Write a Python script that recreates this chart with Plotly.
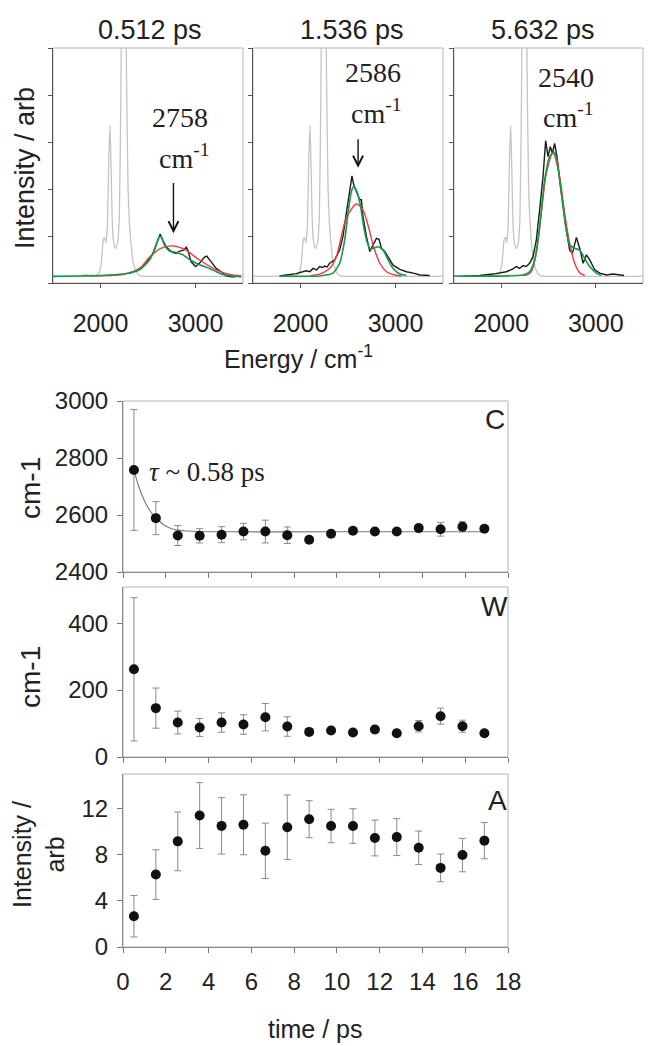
import plotly.graph_objects as go

W, H = 661, 1046
SANS = "Liberation Sans"
SERIF = "Liberation Serif"

# ---------------- spectra (top row) ----------------
panel_titles = ["0.512 ps", "1.536 ps", "5.632 ps"]
peak_labels = ["2758", "2586", "2540"]

gray_e = [1500, 1600, 1700, 1800, 1850, 1870, 1900, 1930, 1960, 1985, 2010, 2030, 2045, 2058, 2072,
          2088, 2100, 2112, 2126, 2140, 2157, 2180, 2198, 2214, 2230, 2244, 2258, 2272, 2290,
          2314, 2348, 2383, 2418, 2500, 3000, 3500]
gray_i = [0.14, 0.14, 0.14, 0.15, 0.18, 0.14, 0.17, 0.15, 0.17, 0.22, 0.45, 0.92, 0.97, 0.86, 1.2,
          2.7, 3.35, 2.4, 1.2, 0.85, 0.73, 0.85, 1.4, 4.0, 8.0, 9.0, 8.0, 4.8, 2.0,
          1.0, 0.4, 0.22, 0.15, 0.14, 0.14, 0.14]

p1_black_e = [2300, 2400, 2450, 2500, 2551, 2586, 2628, 2656, 2691, 2726, 2761, 2796, 2832, 2877,
              2902, 2919, 2954, 3000, 3042, 3095, 3119, 3165, 3218, 3270, 3323, 3380, 3420]
p1_black_i = [0.2, 0.28, 0.36, 0.48, 0.63, 0.81, 1.04, 0.91, 0.77, 0.70, 0.65, 0.63, 0.68, 0.70,
              0.76, 0.70, 0.45, 0.35, 0.42, 0.55, 0.57, 0.45, 0.31, 0.24, 0.15, 0.13, 0.13]
p1_green_e = [1500, 1800, 2000, 2235, 2410, 2516, 2568, 2621, 2639, 2674, 2726, 2796, 2867, 2937,
              3007, 3077, 3147, 3218, 3288, 3393, 3480]
p1_green_i = [0.14, 0.15, 0.16, 0.19, 0.28, 0.49, 0.70, 0.99, 0.98, 0.80, 0.68, 0.65, 0.60, 0.50,
              0.42, 0.36, 0.31, 0.24, 0.18, 0.15, 0.13]
p1_red_e = [1900, 2100, 2235, 2410, 2516, 2640, 2761, 2880, 3042, 3218, 3358, 3480]
p1_red_i = [0.15, 0.16, 0.18, 0.31, 0.55, 0.74, 0.79, 0.72, 0.49, 0.28, 0.18, 0.15]

p2_black_e = [1780, 1954, 2060, 2100, 2130, 2170, 2200, 2230, 2254, 2280, 2306, 2359, 2412, 2447,
              2482, 2518, 2542, 2560, 2588, 2623, 2641, 2658, 2694, 2729, 2764, 2799, 2827, 2852,
              2887, 2923, 2975, 3046, 3116, 3187, 3257, 3360]
p2_black_i = [0.15, 0.2, 0.26, 0.24, 0.31, 0.28, 0.35, 0.33, 0.36, 0.34, 0.42, 0.49, 0.70, 0.99,
              1.48, 1.98, 2.28, 2.09, 1.94, 1.77, 1.77, 1.41, 0.99, 0.67, 0.81, 0.95, 0.93, 0.74,
              0.67, 0.56, 0.38, 0.29, 0.24, 0.21, 0.17, 0.16]
p2_green_e = [1780, 2200, 2342, 2412, 2465, 2500, 2535, 2560, 2595, 2630, 2665, 2700, 2736, 2771,
              2817, 2870, 2923, 2975, 3046, 3116]
p2_green_i = [0.15, 0.15, 0.21, 0.42, 0.91, 1.48, 1.94, 2.05, 1.94, 1.66, 1.2, 0.88, 0.72, 0.74,
              0.77, 0.70, 0.49, 0.31, 0.19, 0.16]
p2_red_e = [2100, 2130, 2200, 2306, 2377, 2430, 2482, 2588, 2658, 2711, 2764, 2835, 2905, 2993, 3060]
p2_red_i = [0.15, 0.16, 0.19, 0.31, 0.56, 0.99, 1.38, 1.68, 1.55, 1.23, 0.81, 0.42, 0.24, 0.17, 0.15]

p3_black_e = [1600, 1700, 1770, 1912, 1982, 2053, 2124, 2159, 2194, 2230, 2265, 2300, 2336, 2371,
              2406, 2442, 2470, 2495, 2519, 2541, 2565, 2590, 2618, 2654, 2689, 2724, 2753, 2795,
              2830, 2866, 2901, 2936, 2989, 3042, 3113, 3184, 3254, 3300]
p3_black_i = [0.14, 0.15, 0.16, 0.19, 0.22, 0.24, 0.30, 0.35, 0.31, 0.37, 0.35, 0.42, 0.56, 0.91,
              1.55, 2.26, 3.03, 2.69, 2.9, 2.76, 2.97, 2.69, 2.19, 1.62, 1.13, 0.70, 0.63, 0.97,
              0.74, 0.42, 0.60, 0.49, 0.28, 0.21, 0.17, 0.19, 0.17, 0.16]
p3_green_e = [1500, 2230, 2300, 2353, 2406, 2459, 2512, 2555, 2590, 2636, 2682, 2724, 2777, 2830,
              2883, 2936, 3007, 3060]
p3_green_i = [0.15, 0.17, 0.24, 0.49, 1.2, 2.19, 2.69, 2.79, 2.62, 1.91, 1.2, 0.81, 0.74, 0.70,
              0.52, 0.35, 0.21, 0.16]
p3_red_e = [2230, 2265, 2318, 2371, 2424, 2477, 2548, 2618, 2671, 2724, 2777, 2830, 2883]
p3_red_i = [0.16, 0.17, 0.24, 0.63, 1.48, 2.33, 2.76, 2.26, 1.48, 0.84, 0.42, 0.22, 0.16]

# ---------------- kinetics (bottom) ----------------
time_ps = [0.512, 1.536, 2.56, 3.584, 4.608, 5.632, 6.656, 7.68, 8.704, 9.728, 10.752, 11.776,
           12.8, 13.824, 14.848, 15.872, 16.896]
center = [2758, 2589, 2528, 2527, 2531, 2542, 2542, 2529, 2513, 2534, 2545, 2542, 2542, 2554, 2550,
          2559, 2552]
center_err = [212, 58, 35, 25, 28, 29, 40, 29, 5, 8, 8, 8, 8, 12, 24, 18, 10]
fit_t = [0.512, 0.7, 0.95, 1.2, 1.45, 1.7, 1.95, 2.25, 2.6, 3.0, 3.6, 5.0, 10.0, 16.9]
fit_c = [2758, 2708, 2659, 2622, 2597, 2578, 2563, 2553, 2547, 2544, 2542, 2541, 2541, 2541]
width = [262, 146, 103, 88, 103, 97, 119, 91, 75, 79, 73, 82, 71, 92, 122, 92, 71]
width_err = [214, 60, 34, 27, 29, 29, 41, 29, 5, 6, 5, 10, 6, 17, 24, 18, 6]
amp = [2.67, 6.28, 9.16, 11.4, 10.5, 10.6, 8.34, 10.38, 11.08, 10.49, 10.49, 9.45, 9.53, 8.6,
       6.86, 7.97, 9.22]
amp_err = [1.8, 2.15, 2.55, 2.85, 2.45, 2.6, 2.4, 2.8, 1.6, 1.45, 1.5, 1.55, 1.6, 1.45, 1.2, 1.45,
           1.57]

# ---------------- layout helpers ----------------
def px_x(x):
    return x / W


def px_y(y):
    return 1 - y / H


top_dom_y = [px_y(283), px_y(48)]
top_dom_x = [[px_x(53), px_x(243)], [px_x(253), px_x(443)], [px_x(454), px_x(643)]]
bot_dom_x = [px_x(123), px_x(508)]
bot_dom_y = [[px_y(572), px_y(401)], [px_y(757), px_y(587)], [px_y(947), px_y(774)]]

GRAY = "#c4c4c4"
BLACK = "#1c1c1c"
GREEN = "#119a4c"
RED = "#f23a3a"
AXC = "#555555"
FRAME = "#b4b4b4"

fig = go.Figure()

spectra = [
    (p1_black_e, p1_black_i, p1_green_e, p1_green_i, p1_red_e, p1_red_i),
    (p2_black_e, p2_black_i, p2_green_e, p2_green_i, p2_red_e, p2_red_i),
    (p3_black_e, p3_black_i, p3_green_e, p3_green_i, p3_red_e, p3_red_i),
]

for k, (be, bi, ge, gi, re_, ri) in enumerate(spectra):
    xa = "x" if k == 0 else f"x{k + 1}"
    ya = "y" if k == 0 else f"y{k + 1}"
    fig.add_trace(go.Scatter(x=gray_e, y=gray_i, mode="lines", xaxis=xa, yaxis=ya,
                             line=dict(color=GRAY, width=1.3, shape="spline", smoothing=0.5)))
    fig.add_trace(go.Scatter(x=be, y=bi, mode="lines", xaxis=xa, yaxis=ya,
                             line=dict(color=BLACK, width=1.4)))
    fig.add_trace(go.Scatter(x=re_, y=ri, mode="lines", xaxis=xa, yaxis=ya,
                             line=dict(color=RED, width=1.4, shape="spline", smoothing=0.8)))
    fig.add_trace(go.Scatter(x=ge, y=gi, mode="lines", xaxis=xa, yaxis=ya,
                             line=dict(color=GREEN, width=1.6, shape="spline", smoothing=0.6)))

# bottom panels
fig.add_trace(go.Scatter(x=fit_t, y=fit_c, mode="lines", xaxis="x4", yaxis="y4",
                         line=dict(color="#7a7a7a", width=1.1, shape="spline", smoothing=0.8)))
err_style = dict(type="data", color="#8a8a8a", thickness=1, width=3.5)
marker_style = dict(color="#111111", size=10)
fig.add_trace(go.Scatter(x=time_ps, y=center, mode="markers", xaxis="x4", yaxis="y4",
                         marker=marker_style, error_y=dict(array=center_err, **err_style)))
fig.add_trace(go.Scatter(x=time_ps, y=width, mode="markers", xaxis="x5", yaxis="y5",
                         marker=marker_style, error_y=dict(array=width_err, **err_style)))
fig.add_trace(go.Scatter(x=time_ps, y=amp, mode="markers", xaxis="x6", yaxis="y6",
                         marker=marker_style, error_y=dict(array=amp_err, **err_style)))

layout = dict(width=W, height=H, margin=dict(l=0, r=0, t=0, b=0, pad=0, autoexpand=False),
              paper_bgcolor="white", plot_bgcolor="white", showlegend=False)

for k in range(3):
    xn = "xaxis" if k == 0 else f"xaxis{k + 1}"
    yn = "yaxis" if k == 0 else f"yaxis{k + 1}"
    ya = "y" if k == 0 else f"y{k + 1}"
    xa = "x" if k == 0 else f"x{k + 1}"
    layout[xn] = dict(domain=top_dom_x[k], range=[1500, 3500], tickvals=[2000, 3000],
                      ticks="outside", ticklen=4, tickcolor=AXC, showline=True, linecolor=AXC,
                      linewidth=1, showgrid=False, zeroline=False, anchor=ya, automargin=False,
                      ticklabelstandoff=14,
                      tickfont=dict(family=SANS, size=25, color="#222"))
    layout[yn] = dict(domain=top_dom_y, range=[0, 5], tickvals=[0, 1, 2, 3, 4, 5],
                      showticklabels=False, ticks="outside", ticklen=4, tickcolor=AXC,
                      showline=True, linecolor=AXC, linewidth=1, showgrid=False,
                      zeroline=False, anchor=xa, automargin=False)

bot_y = [([2400, 3000], [2400, 2600, 2800, 3000]), ([0, 508], [0, 200, 400]),
         ([0, 15], [0, 4, 8, 12])]
for j in range(3):
    n = j + 4
    layout[f"xaxis{n}"] = dict(domain=bot_dom_x, range=[0, 18], tickvals=list(range(0, 19, 2)),
                               ticks="outside", ticklen=5, tickcolor="#777", showline=True,
                               linecolor="#888", linewidth=1, showgrid=False, zeroline=False,
                               anchor=f"y{n}", showticklabels=(j == 2), ticklabelstandoff=8,
                               automargin=False,
                               tickfont=dict(family=SANS, size=24, color="#222"))
    layout[f"yaxis{n}"] = dict(domain=bot_dom_y[j], range=bot_y[j][0], tickvals=bot_y[j][1],
                               ticks="outside", ticklen=5, tickcolor="#777", showline=True,
                               linecolor="#888", linewidth=1, showgrid=False, zeroline=False,
                               anchor=f"x{n}", ticklabelstandoff=4, automargin=False,
                               tickfont=dict(family=SANS, size=24, color="#222"))

shapes = []
for n in ["", "2", "3", "4", "5", "6"]:
    shapes.append(dict(type="rect", xref=f"x{n} domain", yref=f"y{n} domain", x0=0, x1=1,
                       y0=0, y1=1, line=dict(color=FRAME, width=1), layer="below"))
layout["shapes"] = shapes


def paper_text(text, x, y, size, family=SANS, angle=0, xanchor="center"):
    return dict(text=text, x=px_x(x), y=px_y(y), xref="paper", yref="paper", showarrow=False,
                xanchor=xanchor, yanchor="middle", textangle=angle,
                font=dict(family=family, size=size, color="#222"))


ann = []
title_x = [150, 352, 543]
for k in range(3):
    ann.append(paper_text(panel_titles[k], title_x[k], 30, 27))

lab_pos = [((2833, 3.53), (2885, 2.70)), ((2758, 4.47), (2800, 3.65)),
           ((2684, 4.38), (2716, 3.57))]
for k in range(3):
    xa = "x" if k == 0 else f"x{k + 1}"
    ya = "y" if k == 0 else f"y{k + 1}"
    (x1, y1), (x2, y2) = lab_pos[k]
    ann.append(dict(text=peak_labels[k], x=x1, y=y1, xref=xa, yref=ya, showarrow=False,
                    xanchor="center", yanchor="middle",
                    font=dict(family=SERIF, size=28, color="#222")))
    ann.append(dict(text="cm<sup>-1</sup>", x=x2, y=y2, xref=xa, yref=ya, showarrow=False,
                    xanchor="center", yanchor="middle",
                    font=dict(family=SERIF, size=28, color="#222")))

arrows = [("x", "y", 2768, 2.16, 1.06), ("x2", "y2", 2606, 3.09, 2.45)]
for xa, ya, ex, y0, y1 in arrows:
    ann.append(dict(text="", x=ex, y=y1, ax=ex, ay=y0, xref=xa, yref=ya, axref=xa, ayref=ya,
                    showarrow=True, arrowhead=5, arrowsize=1.4, arrowwidth=1.4,
                    arrowcolor="#111"))

ann.append(paper_text("Intensity / arb", 25, 168, 27, angle=-90))
ann.append(paper_text("Energy / cm<sup>-1</sup>", 298, 357, 25))
ann.append(paper_text("cm-1", 30, 488, 28, angle=-90))
ann.append(paper_text("cm-1", 30, 677, 28, angle=-90))
ann.append(paper_text("Intensity /<br>arb", 38, 855, 25, angle=-90))
ann.append(paper_text("time / ps", 315, 1029, 25))
for txt, x, y in [("C", 495, 419), ("W", 494, 606), ("A", 497, 800)]:
    ann.append(paper_text(txt, x, y, 28))
ann.append(paper_text("<i>τ</i> ~ 0.58 ps", 147, 472, 27, family=SERIF, xanchor="left"))

layout["annotations"] = ann
fig.update_layout(**layout)
fig.write_html("out.html")
